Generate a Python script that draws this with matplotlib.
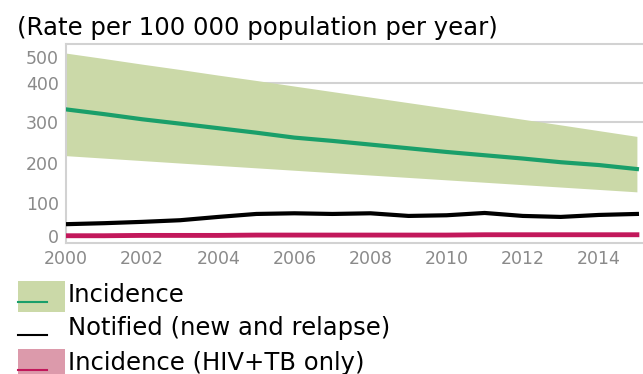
import numpy as np
import matplotlib
matplotlib.use("Agg")
import matplotlib.pyplot as plt
from matplotlib.patches import Rectangle
from matplotlib.lines import Line2D

plt.rcParams['font.family'] = ['DejaVu Sans']

years = np.arange(2000, 2016)

inc_best = [332, 320, 307, 296, 285, 274, 262, 254, 245, 236, 227, 219, 211, 202, 195, 185]
inc_hi = [515, 494, 472, 451, 429, 408, 391, 377, 363, 349, 335, 321, 307, 293, 279, 265]
inc_lo = [218, 212, 206, 200, 194, 188, 182, 176, 170, 164, 158, 152, 146, 140, 134, 128]
notified = [36, 39, 43, 48, 58, 67, 69, 67, 69, 61, 63, 70, 61, 58, 64, 67]
hiv_best = [1, 1, 2, 2, 2, 3, 3, 3, 3, 3, 3, 4, 4, 4, 4, 4]
hiv_lo = [0, 0, 1, 1, 1, 2, 2, 2, 2, 2, 2, 3, 3, 3, 3, 3]
hiv_hi = [2, 2, 3, 3, 3, 4, 4, 4, 4, 4, 4, 5, 5, 5, 5, 5]

ytick_vals = [0, 100, 200, 300, 400, 500]
xtick_vals = list(range(2000, 2015, 2))

# the printed axis is not linear: map values to where the labels sit
scale_vals = np.array([-100, 0, 100, 200, 300, 400, 500, 700], dtype=float)
scale_pos = -np.array([269, 236, 203, 163, 122, 82.5, 57, 5], dtype=float)


def fwd(v):
    return np.interp(v, scale_vals, scale_pos)


def inv(p):
    return np.interp(p, scale_pos, scale_vals)


GREEN = "#1a9f6a"
BAND = "#cbd9a8"
RED = "#c2185b"
PINK = "#dc9aab"
GRID = "#d2d2d2"

W, H = 643, 374
fig = plt.figure(figsize=(W / 100, H / 100), dpi=100)
ax = fig.add_axes([66 / W, 1 - 243 / H, (W - 66) / W, (243 - 44) / H])

ax.set_yscale("function", functions=(fwd, inv))

ax.fill_between(years, inc_lo, inc_hi, color=BAND, lw=0, zorder=2)
ax.plot(years, inc_best, color=GREEN, lw=3, zorder=3)
ax.plot(years, notified, color="black", lw=3, zorder=3)
ax.fill_between(years, hiv_lo, hiv_hi, color=PINK, lw=0, zorder=2)
ax.plot(years, hiv_best, color=RED, lw=3.5, zorder=3)

ax.set_xlim(2000, 2015.16)
ax.set_ylim(-21, 550)
ax.set_yticks(ytick_vals)
ax.set_xticks(xtick_vals)
ax.yaxis.set_minor_locator(plt.NullLocator())
ax.tick_params(length=0, labelsize=12.5, colors="#8a8a8a")
ax.tick_params(axis="y", pad=5)
ax.tick_params(axis="x", pad=5)

for v in [300, 400]:
    ax.axhline(v, color=GRID, lw=1.5, zorder=1)

for s in ["left", "bottom", "top"]:
    ax.spines[s].set_color(GRID)
    ax.spines[s].set_linewidth(1.5)
ax.spines["right"].set_visible(False)

fig.text(17 / W, 1 - 28 / H, "(Rate per 100 000 population per year)",
         fontsize=17.6, va="center", ha="left", color="black")

# legend drawn by hand, matching the printed key
def px(x, y):
    return x / W, 1 - y / H

entries = [
    ("Incidence", BAND, GREEN, 295),
    ("Notified (new and relapse)", None, "black", 328),
    ("Incidence (HIV+TB only)", PINK, RED, 363),
]
for label, patch_col, line_col, yc in entries:
    if patch_col is not None:
        x0, y0 = px(18, yc + 17)
        fig.add_artist(Rectangle((x0, y0), 47 / W, 31 / H, transform=fig.transFigure,
                                 color=patch_col, lw=0))
    ly = yc + 7
    fig.add_artist(Line2D([18 / W, 47 / W], [1 - ly / H] * 2, transform=fig.transFigure,
                          color=line_col, lw=1.5))
    fig.text(68 / W, 1 - yc / H, label, fontsize=17.5, va="center", ha="left")

fig.savefig("out.png", dpi=100)
